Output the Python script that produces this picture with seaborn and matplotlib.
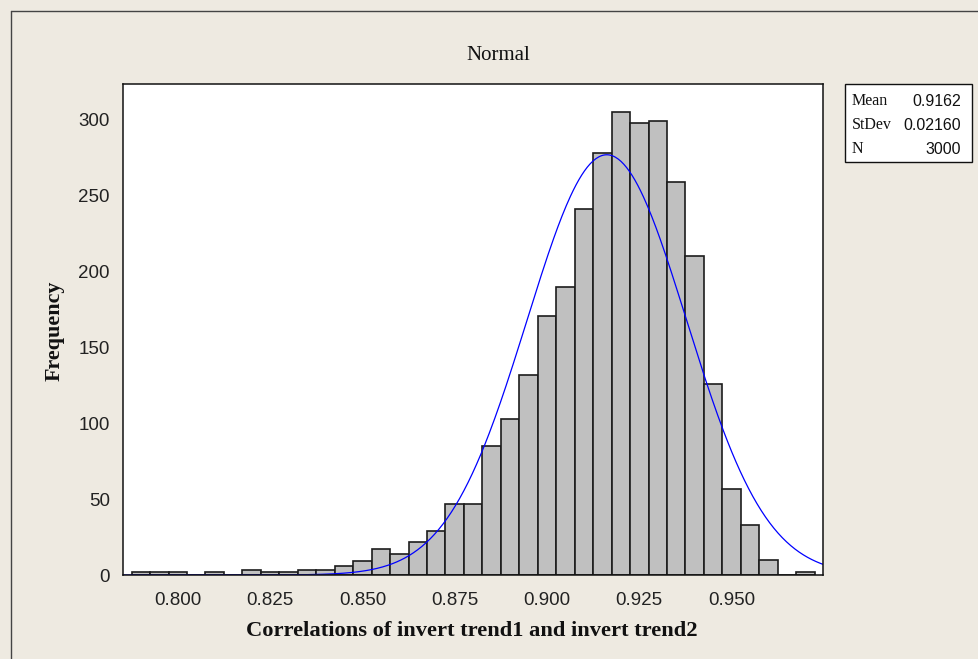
import numpy as np
import matplotlib
matplotlib.use("Agg")
import matplotlib.pyplot as plt
import seaborn as sns
from matplotlib.lines import Line2D
from matplotlib.patches import Rectangle

# Histogram of the bootstrapped correlations (bin centres, width 0.005)
bin_centers = [0.790, 0.795, 0.800, 0.810, 0.820, 0.825, 0.830, 0.835, 0.840,
               0.845, 0.850, 0.855, 0.860, 0.865, 0.870, 0.875, 0.880, 0.885,
               0.890, 0.895, 0.900, 0.905, 0.910, 0.915, 0.920, 0.925, 0.930,
               0.935, 0.940, 0.945, 0.950, 0.955, 0.960, 0.970]
counts = [2, 2, 2, 2, 3, 2, 2, 3, 3,
          6, 9, 17, 14, 22, 29, 47, 47, 85,
          103, 132, 171, 190, 241, 278, 305, 298, 299,
          259, 210, 126, 57, 33, 10, 2]

# Fitted normal summary
fit_mean = 0.9162
fit_sd = 0.02160
n_obs = 3000
bin_width = 0.005

x_ticks = [0.800, 0.825, 0.850, 0.875, 0.900, 0.925, 0.950]
y_ticks = [0, 50, 100, 150, 200, 250, 300]
stat_names = ["Mean", "StDev", "N"]
stat_values = ["0.9162", "0.02160", "3000"]

sns.set_style("white")
bg = "#EEEAE1"
W, H = 979, 659

fig = plt.figure(figsize=(W / 100, H / 100), dpi=100, facecolor=bg)
ax = fig.add_axes([123 / W, 1 - 575 / H, 700 / W, 491 / H])
ax.set_facecolor("white")

sns.histplot(x=bin_centers, weights=counts, binwidth=bin_width,
             binrange=(0.7875, 0.9725), color="#C0C0C0", alpha=1,
             edgecolor="#1c1c1c", linewidth=1.2, ax=ax)

xlim = (0.78516, 0.97476)
xs = np.linspace(xlim[0], xlim[1], 500)
ys = n_obs * bin_width * np.exp(-0.5 * ((xs - fit_mean) / fit_sd) ** 2) / (fit_sd * np.sqrt(2 * np.pi))
sns.lineplot(x=xs, y=ys, color="#0000FF", linewidth=0.9, ax=ax)

ax.set_xlim(*xlim)
ax.set_ylim(0, 323.7)
ax.set_xticks(x_ticks)
ax.set_xticklabels([f"{v:.3f}" for v in x_ticks])
ax.set_yticks(y_ticks)
ax.set_yticklabels([str(v) for v in y_ticks])
ax.set_xlabel("")
ax.set_ylabel("")

for lab in ax.get_xticklabels() + ax.get_yticklabels():
    lab.set_fontfamily("Liberation Sans")
    lab.set_fontsize(13.5)
    lab.set_color("#222222")
ax.tick_params(axis="x", direction="out", length=5, width=1, pad=7, color="#1a1a1a")
ax.tick_params(axis="y", direction="out", length=4.5, width=1, pad=5, color="#1a1a1a")
for sp in ax.spines.values():
    sp.set_visible(True)
    sp.set_color("#111111")
    sp.set_linewidth(1.1)

serif = "Liberation Serif"
fig.text(498 / W, 1 - 56 / H, "Normal", ha="center", va="center",
         family=serif, fontsize=15, color="#111111")
fig.text(472 / W, 1 - 636 / H, "Correlations of invert trend1 and invert trend2",
         ha="center", va="baseline", family=serif, fontweight="bold",
         fontsize=16.2, color="#111111")
fig.text(55 / W, 1 - 331 / H, "Frequency", rotation=90, ha="center",
         va="center", family=serif, fontweight="bold", fontsize=15.8,
         color="#111111")

# Summary box
fig.add_artist(Rectangle((845 / W, 1 - 162 / H), 127 / W, 78 / H,
                         transform=fig.transFigure, facecolor="white",
                         edgecolor="#111111", linewidth=1.0))
row_y = [101, 125, 149]
for name, val, yy in zip(stat_names, stat_values, row_y):
    fig.text(852 / W, 1 - yy / H, name, ha="left", va="center",
             family=serif, fontsize=11.5, color="#111111")
    fig.text(961 / W, 1 - yy / H, val, ha="right", va="center",
             family="Liberation Sans", fontsize=11.5, color="#111111")

# Frame around the graph window
fig.add_artist(Line2D([11 / W, 11 / W], [0, 1 - 11 / H], transform=fig.transFigure,
                      color="#444444", linewidth=1.0))
fig.add_artist(Line2D([11 / W, 1], [1 - 11 / H, 1 - 11 / H], transform=fig.transFigure,
                      color="#444444", linewidth=1.0))

fig.savefig("out.png", dpi=100, facecolor=bg)
